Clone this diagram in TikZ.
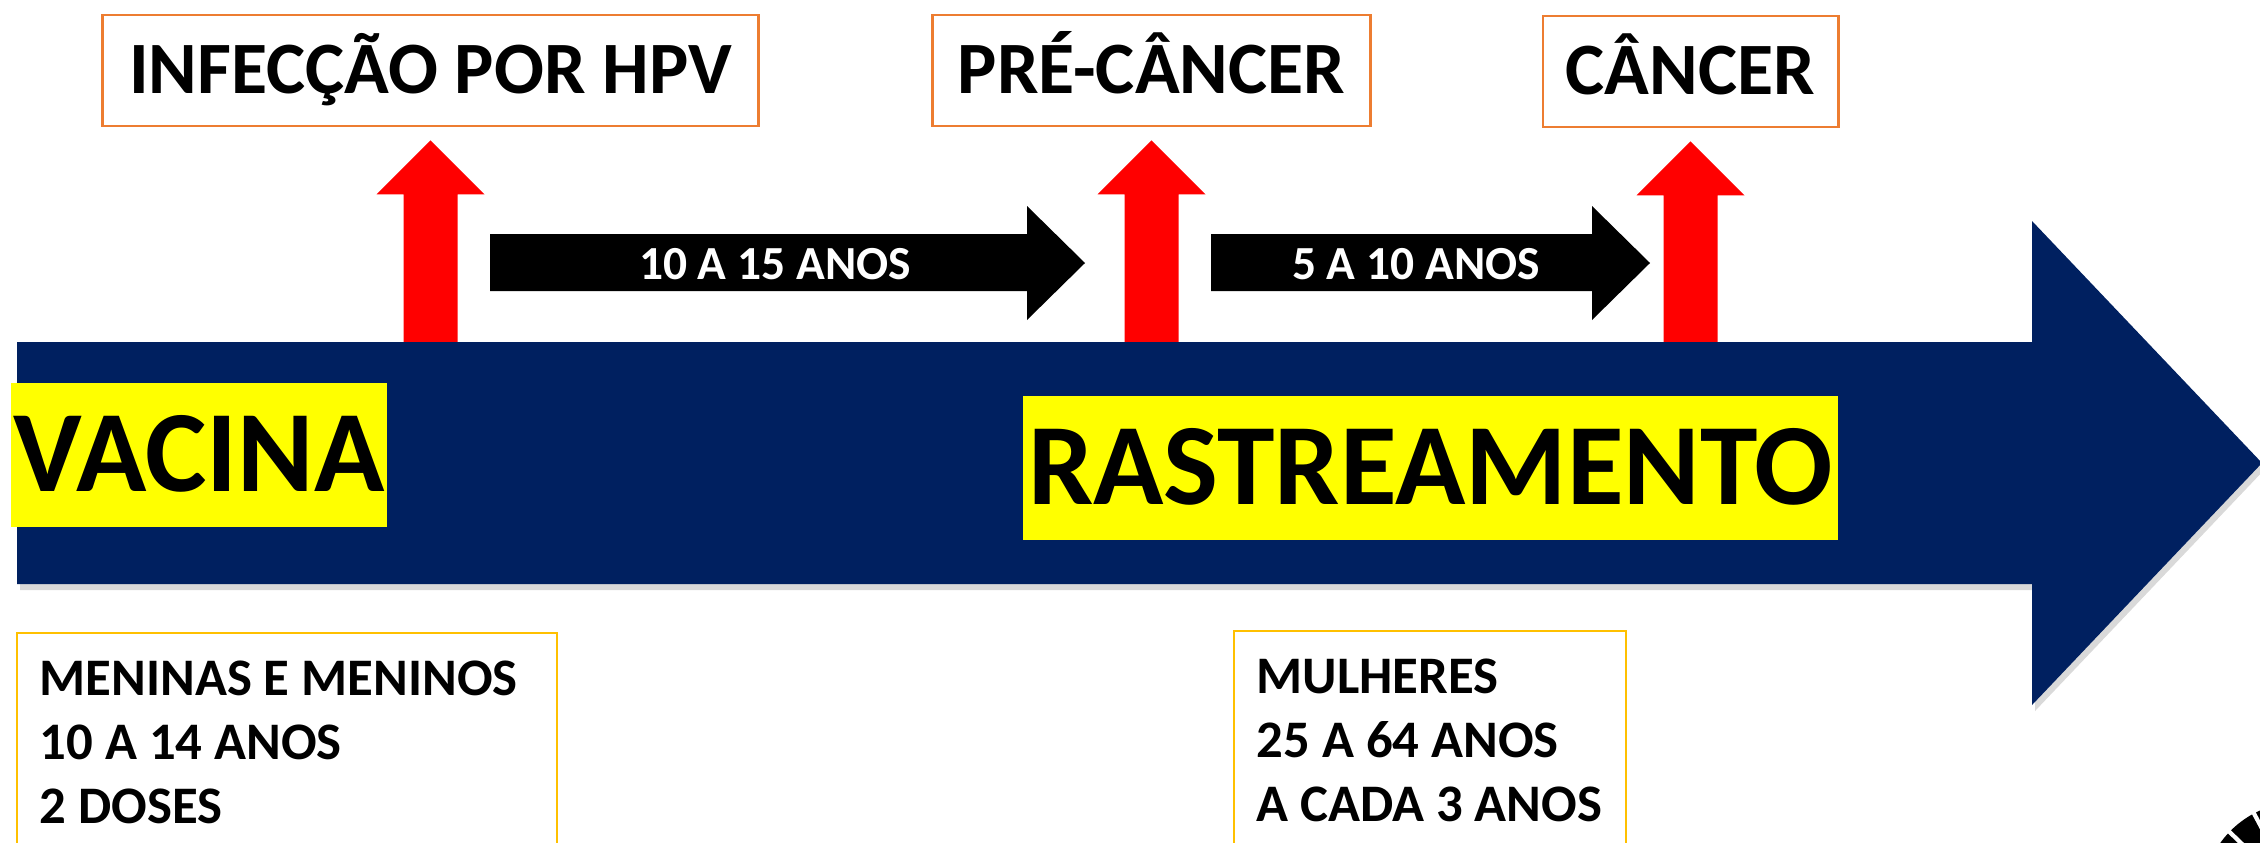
\documentclass[tikz,border=0pt]{standalone}
\usepackage{fontspec}
\setmainfont{Carlito}
\usetikzlibrary{shadows}
\definecolor{timeblue}{RGB}{0, 32, 96}
\definecolor{stageorange}{RGB}{237, 125, 49}
\definecolor{agegold}{RGB}{255, 192, 0}
\definecolor{markyellow}{RGB}{255, 255, 0}
\definecolor{stepred}{RGB}{255, 0, 0}

\begin{document}
\begin{tikzpicture}[x=0.01cm, y=-0.01cm,
    stagebox/.style={draw=stageorange, line width=0.8pt, fill=white, inner sep=0pt,
      minimum height=1.11cm, text height=13.3pt, text depth=0pt,
      font=\fontsize{21}{25}\selectfont\bfseries},
    bigword/.style={fill=markyellow, inner sep=0pt, minimum height=1.44cm,
      text height=20.9pt, text depth=0pt, font=\fontsize{33}{40}\selectfont\bfseries},
    periodlabel/.style={text=white, inner sep=0pt, font=\fontsize{13.5}{16}\selectfont\bfseries},
    agebox/.style={draw=agegold, line width=0.8pt},
    agetext/.style={inner sep=0pt, align=left, anchor=north west,
      font=\fontsize{15}{18.2}\selectfont\bfseries}]
    \clip (0,0) rectangle (2260,842);

    % Stages of the disease
    \node[stagebox, minimum width=6.55cm] (hpv) at (430.5,70.5) {INFECÇÃO POR HPV};
    \node[stagebox, minimum width=4.37cm] (pre) at (1151.5,70.5) {PRÉ-CÂNCER};
    \node[stagebox, minimum width=2.95cm] (cancer) at (1690.5,71.5) {CÂNCER};

    % Red arrows up to each stage
    \foreach \s in {hpv,pre,cancer} {
      \begin{scope}[shift={(\s.south)}]
        \fill[stepred] (0,13) -- (54,67) -- (27,67) -- (27,222) -- (-27,222)
          -- (-27,67) -- (-54,67) -- cycle;
      \end{scope}
    }

    % Time between stages
    \foreach \a/\b in {490/1027, 1211/1592} {
      \fill[black] (\a,234) -- (\b,234) -- (\b,206) -- (\b+58,263) -- (\b,320)
        -- (\b,291) -- (\a,291) -- cycle;
    }
    \node[periodlabel] (gap1) at (775,264) {10 A 15 ANOS};
    \node[periodlabel] (gap2) at (1416,264) {5 A 10 ANOS};

    % Timeline
    \fill[timeblue, drop shadow={shadow xshift=0.3mm, shadow yshift=-0.6mm, opacity=0.3}]
      (17,342) -- (2032,342) -- (2032,221) -- (2262,463) -- (2032,705)
      -- (2032,584) -- (17,584) -- cycle;
    \node[bigword, minimum width=3.76cm] (vacina) at (199,455) {VACINA};
    \node[bigword, minimum width=8.15cm] (rastreio) at (1430.5,468) {RASTREAMENTO};

    % Who and when
    \draw[agebox] (17,633) rectangle (557,900);
    \node[agetext] (vacpublic) at (39,660) {MENINAS E MENINOS\\10 A 14 ANOS\\2 DOSES};
    \draw[agebox] (1234,631) rectangle (1626,900);
    \node[agetext] (rastpublic) at (1256,658) {MULHERES\\25 A 64 ANOS\\A CADA 3 ANOS};

    % Logo in the corner
    \fill[black] (2300,900) circle (0.98cm);
    \foreach \a in {100,118,...,190} {
      \draw[white, line width=1.2pt] (2300,900) -- ++(\a:1.1cm);
    }
  \end{tikzpicture}
\end{document}
